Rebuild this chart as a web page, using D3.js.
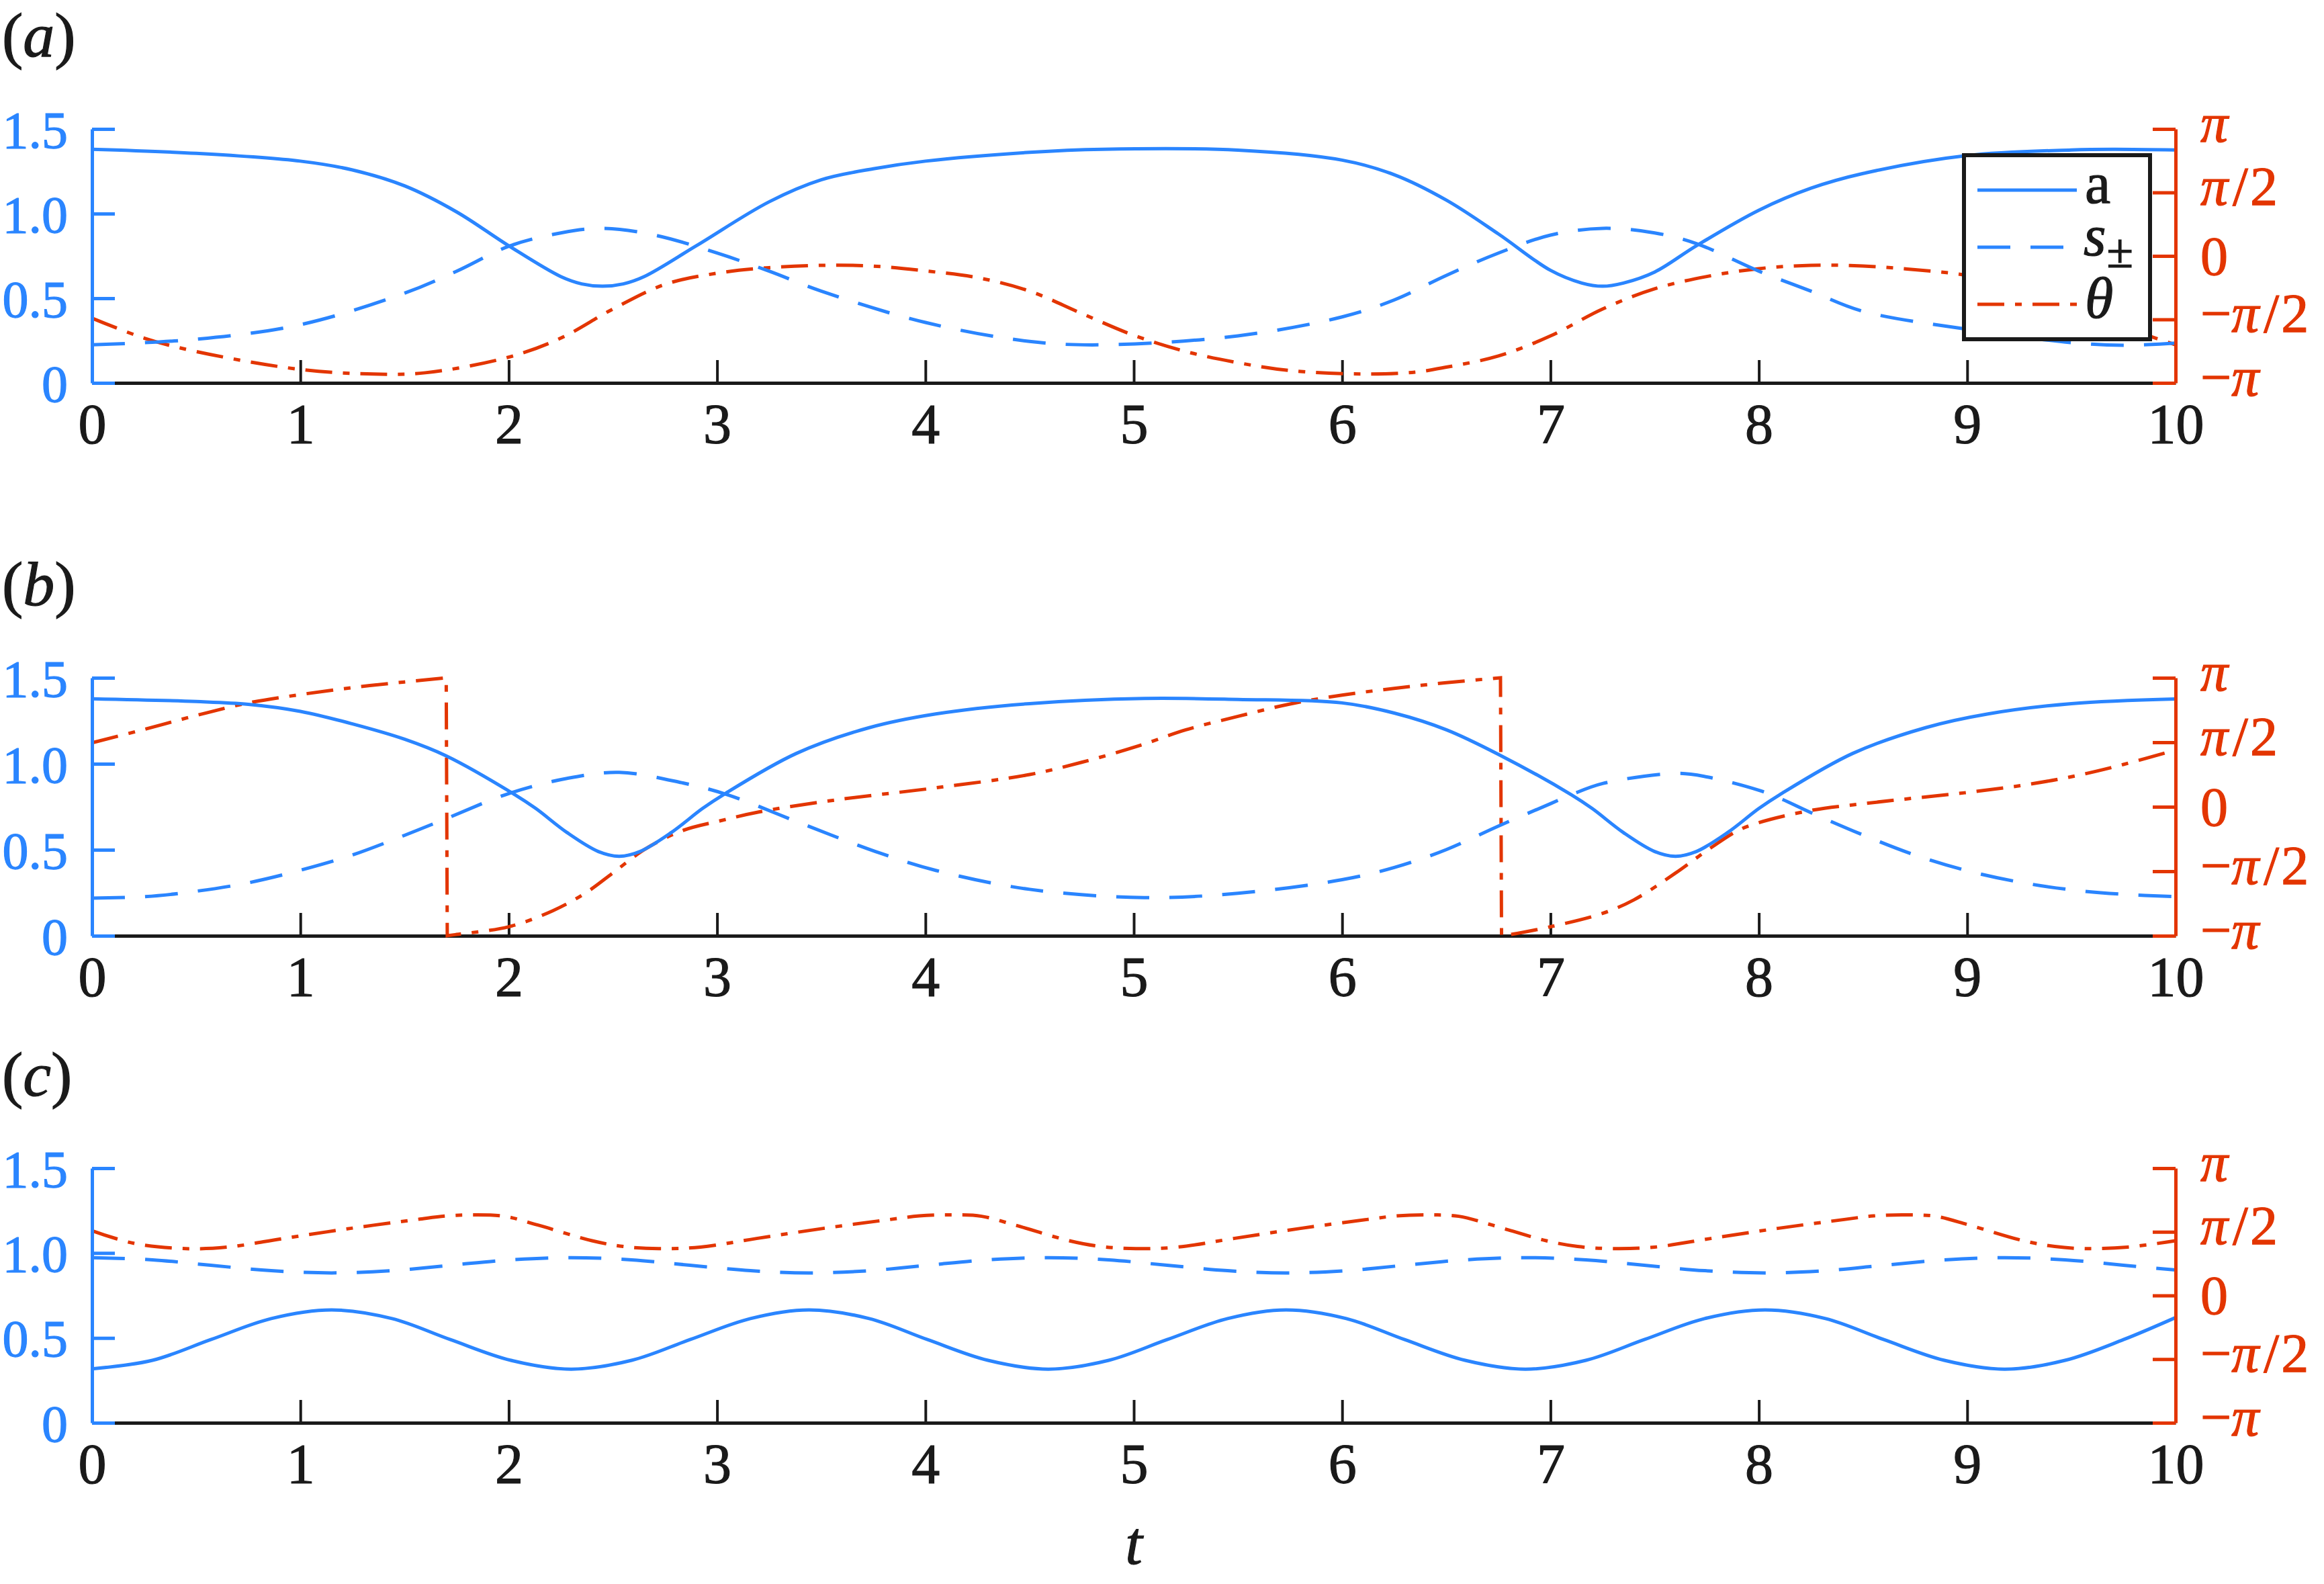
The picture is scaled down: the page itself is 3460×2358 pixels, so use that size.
<!DOCTYPE html>
<html><head><meta charset="utf-8">
<script src="https://cdn.jsdelivr.net/npm/d3@7"></script>
<style>html,body{margin:0;padding:0;background:#fff;}svg{display:block;}</style>
</head><body>
<svg id="chart" width="3460" height="2358"></svg>
<script>
// ---------------- data ----------------
const tTickValues = [0,1,2,3,4,5,6,7,8,9,10];
const tTickLabels = ["0","1","2","3","4","5","6","7","8","9","10"];
const leftTickValues = [0,0.5,1.0,1.5];
const leftTickLabels = ["0","0.5","1.0","1.5"];
const rightTickValues = [-1,-0.5,0,0.5,1];          // in units of pi
const rightTickLabels = ["−π","−π/2","0","π/2","π"];
const panelLabels = ["a","b","c"];
const legendLabels = ["a","s±","θ"];

// panel (a)
const aT_a = [0,0.5,1,1.25,1.5,1.75,2,2.25,2.35,2.45,2.55,2.65,2.9,3.25,3.5,3.75,4,4.5,4.85,5.5,6,6.25,6.5,6.75,7,7.15,7.25,7.35,7.5,7.7,8,8.25,8.5,9,9.5,9.7,10];
const aV_a = [1.38,1.356,1.31,1.258,1.164,1.01,0.81,0.628,0.585,0.571,0.585,0.628,0.81,1.07,1.2,1.265,1.31,1.362,1.38,1.375,1.316,1.23,1.08,0.88,0.665,0.59,0.571,0.59,0.655,0.81,1.02,1.15,1.237,1.343,1.376,1.38,1.376];
const sT_a = [0,0.5,1,1.5,1.75,2,2.25,2.45,2.7,3,3.25,3.5,4,4.5,4.85,5.5,6,6.25,6.5,6.75,7,7.25,7.5,7.7,8,8.25,8.5,9,9.5,9.75,10];
const sV_a = [0.225,0.258,0.344,0.53,0.66,0.807,0.886,0.913,0.873,0.767,0.66,0.542,0.357,0.245,0.225,0.278,0.39,0.49,0.635,0.767,0.873,0.913,0.886,0.823,0.66,0.542,0.423,0.317,0.238,0.222,0.235];
const thT_a = [0,0.25,0.5,1,1.35,1.6,2,2.25,2.5,2.75,3,3.25,3.5,3.75,4,4.25,4.5,4.75,5,5.25,5.5,5.75,6.1,6.35,6.5,6.75,7,7.25,7.5,7.75,8,8.25,8.5,8.75,9,9.25,9.5,9.75,10];
const thV_a = [-0.49,-0.647,-0.753,-0.894,-0.93,-0.92,-0.797,-0.647,-0.418,-0.224,-0.136,-0.092,-0.074,-0.08,-0.118,-0.171,-0.277,-0.453,-0.625,-0.753,-0.841,-0.903,-0.93,-0.915,-0.876,-0.788,-0.63,-0.418,-0.259,-0.162,-0.1,-0.074,-0.079,-0.109,-0.153,-0.25,-0.4,-0.56,-0.7];

// panel (b)
const aT_b = [0,0.5,0.75,1,1.25,1.5,1.7,2.03,2.13,2.28,2.43,2.53,2.63,2.78,2.93,3.03,3.38,3.73,4.05,4.5,5.05,5.5,6,6.25,6.5,6.75,7.1,7.2,7.35,7.5,7.6,7.7,7.85,8,8.1,8.45,8.8,9.1,9.5,10];
const aV_b = [1.378,1.362,1.346,1.305,1.232,1.143,1.046,0.82,0.74,0.6,0.49,0.462,0.49,0.6,0.74,0.82,1.06,1.21,1.29,1.35,1.38,1.374,1.354,1.295,1.198,1.055,0.82,0.74,0.6,0.49,0.462,0.49,0.6,0.74,0.82,1.06,1.21,1.29,1.35,1.377];
const sT_b = [0,0.25,0.5,0.75,1,1.25,1.5,1.7,2,2.28,2.53,2.83,3.05,3.39,3.76,4.05,4.5,5.05,5.5,6,6.25,6.5,6.75,7,7.1,7.25,7.6,7.75,8,8.1,8.25,8.5,8.75,9,9.25,9.5,9.75,10];
const sV_b = [0.219,0.227,0.259,0.308,0.381,0.47,0.584,0.681,0.827,0.915,0.95,0.89,0.82,0.66,0.49,0.38,0.27,0.222,0.247,0.326,0.397,0.501,0.638,0.768,0.82,0.885,0.944,0.924,0.846,0.8,0.716,0.586,0.469,0.378,0.312,0.267,0.241,0.228];
const thT_b = [0,0.25,0.5,0.75,1,1.25,1.5,1.7,1.705,1.75,2,2.21,2.37,2.5,2.65,2.83,3.02,3.2,3.57,4.05,4.5,4.75,5.03,5.25,5.5,5.75,6,6.25,6.5,6.76,6.765,6.81,7,7.25,7.4,7.6,7.75,7.9,8,8.25,8.5,8.75,9,9.25,9.5,9.75,10];
const thV_b = [0.496,0.6,0.708,0.805,0.87,0.924,0.968,1.0,-1.0,-0.99,-0.93,-0.807,-0.667,-0.513,-0.333,-0.187,-0.107,-0.04,0.053,0.147,0.25,0.345,0.476,0.597,0.701,0.797,0.866,0.918,0.962,1.0,-1.0,-0.99,-0.93,-0.826,-0.722,-0.514,-0.34,-0.184,-0.123,-0.028,0.024,0.068,0.111,0.163,0.233,0.328,0.441];

// panel (c)
const aT_c = [0,0.29,0.57,0.86,1.15,1.44,1.72,2.01,2.3,2.59,2.87,3.16,3.44,3.73,4.01,4.3,4.59,4.88,5.16,5.45,5.73,6.02,6.3,6.59,6.88,7.17,7.45,7.74,8.03,8.32,8.6,8.89,9.18,9.47,9.75,10];
const aV_c = [0.318,0.368,0.49,0.614,0.665,0.614,0.49,0.368,0.316,0.368,0.49,0.614,0.665,0.614,0.49,0.368,0.316,0.368,0.49,0.614,0.665,0.614,0.49,0.368,0.316,0.368,0.49,0.614,0.665,0.614,0.49,0.368,0.316,0.368,0.49,0.62];
const sT_c = [0,0.29,0.57,0.86,1.15,1.44,1.72,2.01,2.3,2.59,2.87,3.16,3.44,3.73,4.01,4.3,4.59,4.88,5.16,5.45,5.73,6.02,6.3,6.59,6.88,7.17,7.45,7.74,8.03,8.32,8.6,8.89,9.18,9.47,9.75,10];
const sV_c = [0.973,0.96,0.928,0.896,0.883,0.896,0.928,0.96,0.973,0.96,0.928,0.896,0.883,0.896,0.928,0.96,0.973,0.96,0.928,0.896,0.883,0.896,0.928,0.96,0.973,0.96,0.928,0.896,0.883,0.896,0.928,0.96,0.973,0.96,0.928,0.9];
const thT_c = [0,0.2,0.45,0.65,0.92,1.24,1.56,1.7,1.83,1.98,2.14,2.4,2.55,2.72,2.92,3.19,3.51,3.83,3.97,4.12,4.27,4.43,4.69,4.84,5.01,5.21,5.48,5.8,6.12,6.26,6.41,6.56,6.72,6.98,7.13,7.3,7.5,7.77,8.09,8.41,8.55,8.7,8.85,9.01,9.27,9.42,9.57,9.77,10];
const thV_c = [0.509,0.41,0.368,0.38,0.448,0.527,0.597,0.625,0.633,0.622,0.553,0.43,0.385,0.368,0.38,0.448,0.527,0.597,0.625,0.633,0.622,0.553,0.43,0.385,0.368,0.38,0.448,0.527,0.597,0.625,0.633,0.622,0.553,0.43,0.385,0.368,0.38,0.448,0.527,0.597,0.625,0.633,0.622,0.553,0.43,0.385,0.368,0.38,0.43];

// ---------------- layout / style ----------------
const BLUE = "#2a85ff", RED = "#e33500", BLACK = "#1a1a1a";
const FONT = "Liberation Serif";
const DASH = "49,30", DASHDOT = "40,16,10,16";
const X0 = 137, X1 = 3239;
const panels = [
  {label: panelLabels[0], top: 192, bottom: 570, a:[aT_a,aV_a], s:[sT_a,sV_a], th:[thT_a,thV_a], legend: true},
  {label: panelLabels[1], top: 1009, bottom: 1393, a:[aT_b,aV_b], s:[sT_b,sV_b], th:[thT_b,thV_b]},
  {label: panelLabels[2], top: 1739, bottom: 2118, a:[aT_c,aV_c], s:[sT_c,sV_c], th:[thT_c,thV_c]}
];

const svg = d3.select("#chart");
svg.append("rect").attr("width",3460).attr("height",2358).attr("fill","#fff");
const x = d3.scaleLinear().domain([0,10]).range([X0,X1]);
const zip = (ts, vs) => ts.map((t,i)=>[t, vs[i]]);
const heavy = (sel, col) => sel.attr("stroke", col).attr("stroke-width", 1.2);

// continuous pieces joined by straight (vertical) connectors at phase wraps
function buildPath(line, pts, jump) {
  const pieces = []; let cur = [pts[0]];
  for (let i = 1; i < pts.length; i++) {
    if (Math.abs(pts[i][1] - pts[i-1][1]) > jump) { pieces.push(cur); cur = [pts[i]]; }
    else cur.push(pts[i]);
  }
  pieces.push(cur);
  return pieces.map((pc,k) => { const d = line(pc); return k === 0 ? d : "L" + d.slice(1); }).join("");
}

panels.forEach(p => {
  const yL = d3.scaleLinear().domain([0,1.5]).range([p.bottom,p.top]);
  const yR = d3.scaleLinear().domain([-Math.PI,Math.PI]).range([p.bottom,p.top]);
  const g = svg.append("g");

  // panel label
  const pl = g.append("text").attr("x",3).attr("y",p.top-108)
    .attr("font-family",FONT).attr("font-size",94).attr("fill",BLACK);
  heavy(pl, BLACK);
  pl.append("tspan").text("(");
  pl.append("tspan").attr("font-style","italic").text(p.label);
  pl.append("tspan").text(")");

  // x axis
  const xa = g.append("g").attr("transform",`translate(0,${p.bottom})`)
    .call(d3.axisBottom(x).tickValues(tTickValues).tickSizeInner(-34).tickSizeOuter(0).tickPadding(30)
      .tickFormat((d,i)=>tTickLabels[i]));
  xa.select(".domain").attr("stroke",BLACK).attr("stroke-width",5);
  xa.selectAll(".tick line").attr("stroke",BLACK).attr("stroke-width",4);
  heavy(xa.selectAll(".tick text").attr("font-family",FONT).attr("font-size",84).attr("fill",BLACK), BLACK);

  // curves
  const curve = d3.curveCatmullRom.alpha(0.5);
  const lineL = d3.line().x(d=>x(d[0])).y(d=>yL(d[1])).curve(curve);
  const lineR = d3.line().x(d=>x(d[0])).y(d=>yR(d[1]*Math.PI)).curve(curve);
  g.append("path").attr("d",buildPath(lineR, zip(p.th[0],p.th[1]), 1.5)).attr("fill","none")
    .attr("stroke",RED).attr("stroke-width",5).attr("stroke-dasharray",DASHDOT);
  g.append("path").attr("d",lineL(zip(p.s[0],p.s[1]))).attr("fill","none")
    .attr("stroke",BLUE).attr("stroke-width",5).attr("stroke-dasharray",DASH);
  g.append("path").attr("d",lineL(zip(p.a[0],p.a[1]))).attr("fill","none")
    .attr("stroke",BLUE).attr("stroke-width",5);

  // left axis
  const la = g.append("g").attr("transform",`translate(${X0},0)`)
    .call(d3.axisLeft(yL).tickValues(leftTickValues).tickSizeInner(-34).tickSizeOuter(0).tickPadding(36)
      .tickFormat((d,i)=>leftTickLabels[i]));
  la.select(".domain").attr("stroke",BLUE).attr("stroke-width",5);
  la.selectAll(".tick line").attr("stroke",BLUE).attr("stroke-width",5);
  heavy(la.selectAll(".tick text").attr("font-family",FONT).attr("font-size",78).attr("fill",BLUE).attr("dy","0.35em"), BLUE);

  // right axis
  const ra = g.append("g").attr("transform",`translate(${X1},0)`)
    .call(d3.axisRight(yR).tickValues(rightTickValues.map(v=>v*Math.PI)).tickSizeInner(-34).tickSizeOuter(0).tickPadding(37)
      .tickFormat(""));
  ra.select(".domain").attr("stroke",RED).attr("stroke-width",5);
  ra.selectAll(".tick line").attr("stroke",RED).attr("stroke-width",5);
  ra.selectAll(".tick text").each(function(d,i){
    const lab = rightTickLabels[i];
    const t = d3.select(this).text(null).attr("font-family",FONT).attr("font-size",82).attr("fill",RED)
      .attr("dy", lab === "0" ? "0.33em" : "0.22em");
    heavy(t, RED);
    for (const ch of lab) {
      const ts = t.append("tspan").text(ch);
      if (ch === "π") ts.attr("font-style","italic");
      if (ch === "/") ts.attr("dx",7);
      if (ch === "2") ts.attr("dx",3);
    }
  });

  // legend
  if (p.legend) {
    const lg = g.append("g");
    lg.append("rect").attr("x",2924).attr("y",231).attr("width",277).attr("height",274)
      .attr("fill","#fff").attr("stroke",BLACK).attr("stroke-width",6);
    const ys = [283,368,453];
    const styles = [[BLUE,null],[BLUE,DASH],[RED,DASHDOT]];
    ys.forEach((yy,i)=>{
      lg.append("line").attr("x1",2944).attr("x2",3092).attr("y1",yy).attr("y2",yy)
        .attr("stroke",styles[i][0]).attr("stroke-width",5).attr("stroke-dasharray",styles[i][1]);
    });
    heavy(lg.append("text").attr("x",3104).attr("y",ys[0]+19).attr("font-family",FONT).attr("font-size",86)
      .attr("fill",BLACK).text(legendLabels[0]), BLACK);
    const st = lg.append("text").attr("x",3102).attr("y",ys[1]+12).attr("font-family",FONT).attr("font-size",86).attr("fill",BLACK);
    heavy(st, BLACK);
    st.append("tspan").attr("font-style","italic").text(legendLabels[1][0]);
    st.append("tspan").attr("font-size",72).attr("dy",18).attr("dx",1).text(legendLabels[1][1]);
    heavy(lg.append("text").attr("x",3104).attr("y",ys[2]+20).attr("font-family",FONT).attr("font-size",86)
      .attr("font-style","italic").attr("fill",BLACK).text(legendLabels[2]), BLACK);
  }
});

// x label
heavy(svg.append("text").attr("x",x(5)).attr("y",2328).attr("text-anchor","middle")
  .attr("font-family",FONT).attr("font-size",92).attr("font-style","italic").attr("fill",BLACK).text("t"), BLACK);
</script>
</body></html>
